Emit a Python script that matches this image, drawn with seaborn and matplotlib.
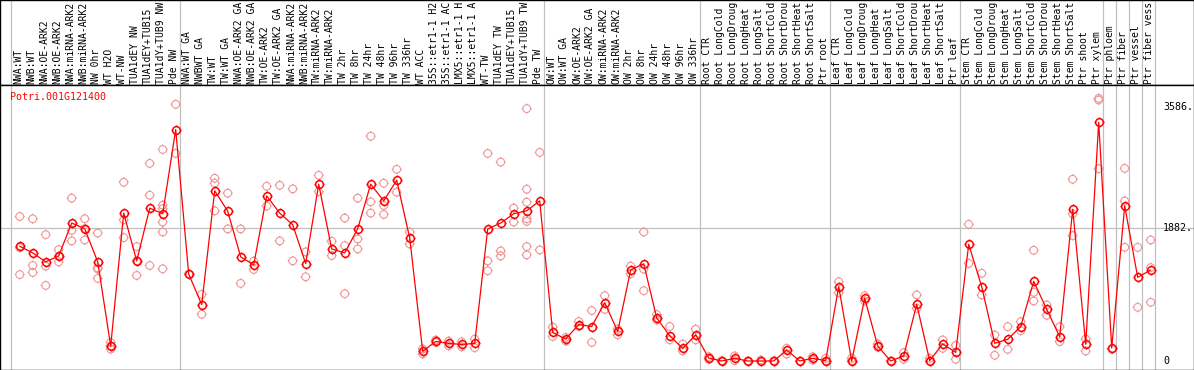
import matplotlib as mpl

mpl.use('Agg')
import numpy as np
import pandas as pd
import matplotlib.pyplot as plt
import seaborn as sns
from matplotlib.path import Path

sns.set_style('white')
plt.rcParams['font.family'] = ['DejaVu Sans Mono', 'DejaVu Sans']

#### Data ####
gene_id = 'Potri.001G121400'

# header labels as they show in the header (long ones are cut there)
sample_labels = [
    'NWA:WT', 'NWB:WT', 'NWA:OE-ARK2', 'NWB:OE-ARK2', 'NWA:miRNA-ARK2',
    'NWB:miRNA-ARK2', 'NW 0hr', 'WT H2O', 'WT-NW', 'TUA1dEY NW',
    'TUA1dEY+TUB15', 'TUA1dY+TUB9 NW', 'Pde NW',
    'NWA:WT GA', 'NWBWT GA', 'TW:WT', 'TW:WT GA', 'NWA:OE-ARK2 GA',
    'NWB:OE-ARK2 GA', 'TW:OE-ARK2', 'TW:OE-ARK2 GA', 'NWA:miRNA-ARK2',
    'NWB:miRNA-ARK2', 'TW:miRNA-ARK2', 'TW:miRNA-ARK2', 'TW 2hr', 'TW 8hr',
    'TW 24hr', 'TW 48hr', 'TW 96hr', 'TW 336hr', 'WT ACC',
    '35S::etr1-1 H2', '35S::etr1-1 AC', 'LMX5::etr1-1 H',
    'LMX5::etr1-1 A', 'WT-TW', 'TUA1dEY TW', 'TUA1dEY+TUB15',
    'TUA1dY+TUB9 TW', 'Pde TW',
    'OW:WT', 'OW:WT GA', 'OW:OE-ARK2', 'OW:OE-ARK2 GA', 'OW:miRNA-ARK2',
    'OW:miRNA-ARK2', 'OW 2hr', 'OW 8hr', 'OW 24hr', 'OW 48hr', 'OW 96hr',
    'OW 336hr',
    'Root CTR', 'Root LongCold', 'Root LongDroug', 'Root LongHeat',
    'Root LongSalt', 'Root ShortCold', 'Root ShortDrou', 'Root ShortHeat',
    'Root ShortSalt', 'Ptr root',
    'Leaf CTR', 'Leaf LongCold', 'Leaf LongDroug', 'Leaf LongHeat',
    'Leaf LongSalt', 'Leaf ShortCold', 'Leaf ShortDrou', 'Leaf ShortHeat',
    'Leaf ShortSalt', 'Ptr leaf',
    'Stem CTR', 'Stem LongCold', 'Stem LongDroug', 'Stem LongHeat',
    'Stem LongSalt', 'Stem ShortCold', 'Stem ShortDrou', 'Stem ShortHeat',
    'Stem ShortSalt', 'Ptr shoot', 'Ptr xylem', 'Ptr phloem', 'Ptr fiber',
    'Ptr vessel', 'Ptr fiber vess',
]

mean_expr = [
    1620, 1526, 1400, 1484, 1948, 1868, 1400, 211, 2088, 1414, 2158, 2079, 3268,
    1228, 796, 2402, 2116, 1470, 1358, 2331, 2088, 1924, 1376, 2496, 1582, 1526,
    1868, 2496, 2261, 2552, 1737, 136, 276, 248, 234, 248, 1864, 1948, 2079,
    2121, 2261,
    403, 309, 515, 487, 824, 417, 1287, 1372, 609, 356, 178, 370,
    42, 0, 38, 0, 0, 0, 155, 0, 38, 5,
    1050, 0, 885, 212, 0, 71, 800, 5, 240, 122,
    1647, 1050, 250, 306, 485, 1125, 730, 343, 2142, 236,
    3370, 184, 2189, 1181, 1285,
]

replicate_expr = [
    [2040, 1220, 1600], [2008, 1348, 1250], [1784, 1339, 1067],
    [1573, 1400, 1480], [2299, 1844, 1695], [2008, 1709, 1870],
    [1807, 1316, 1166, 1300], [262, 169, 211], [2524, 1994, 1742],
    [1615, 1208, 1414], [2790, 2341, 1348],
    [2987, 2200, 2150, 1962, 1821, 1302], [3624, 2931],
    [1228], [941, 660], [2580, 2510, 2121], [2369, 1864], [1864, 1096],
    [1409, 1292], [2467, 2187], [2481, 1695], [2430, 1414], [1540, 1189],
    [2622, 2392], [1690, 1489], [2018, 1629, 950], [2299, 1723, 1582],
    [3174, 2247, 2088], [2510, 2196, 2069], [2706, 2383], [1821, 1653],
    [170, 100], [295, 262], [281, 215], [271, 201], [309, 187],
    [2931, 1414, 1274], [2809, 1554, 1484], [2158, 1962],
    [3563, 2425, 2243, 2008, 1971, 1615, 1498], [2945, 1568],
    [478, 346], [333, 281], [557, 487], [712, 262], [922, 730], [449, 370],
    [1339, 1231], [1821, 1297, 993], [656, 580], [487, 300], [239, 145],
    [449, 300],
    [61, 24], [5, 0], [71, 5], [0, 0], [14, 0], [5, 0], [179, 99], [0],
    [61, 14], [38, 0],
    [1120, 965], [38, 0], [922, 847], [240, 193], [0], [118, 24], [932, 744],
    [38, 0], [297, 179], [221, 24],
    [1930, 1379], [1238, 932], [367, 80], [485, 165], [555, 428],
    [1563, 970, 847], [791, 645], [485, 273], [2566, 2076, 1770], [311, 141],
    [3709, 3685, 2715], [165], [2720, 2259, 1605], [1605, 758],
    [1709, 1318, 829],
]

# last column index of each block (-1 = line before the first column)
group_ends = [-1, 12, 40, 52, 62, 72, 83, 84, 85, 86, 87]
y_marks = [3586, 1882, 0]

########################

W, H = 1194, 370          # output size, px
HEAD = 85                 # header height, px
X0, DX = 19.7, 13.0       # px of first column, px per column
Y0, DY = 361.0, 133.3 / 1882   # px of zero, px per unit
FS = 7.2
GRID = '#c0c0c0'

# open circle with four small ticks
ring = Path.make_compound_path(
    Path.unit_circle(),
    Path([(0, 1), (0, 1.3)]), Path([(0, -1), (0, -1.3)]),
    Path([(1, 0), (1.3, 0)]), Path([(-1, 0), (-1.3, 0)]))

pos = np.arange(len(mean_expr))
rep_df = pd.DataFrame(
    [(i, v) for i, vals in enumerate(replicate_expr) for v in vals],
    columns=['pos', 'value'])

fig = plt.figure(figsize=(W / 100, H / 100), dpi=100)
ax_h = fig.add_axes([0, 1 - HEAD / H, 1, HEAD / H])
ax = fig.add_axes([0, 0, 1, 1 - HEAD / H])

xlim = (-X0 / DX, (W - X0) / DX)
for a in (ax, ax_h):
    a.set_xlim(xlim)
    a.set_xticks([])
    a.set_yticks([])
    for s in a.spines.values():
        s.set_color('black')
        s.set_linewidth(1.0)
ax.set_ylim((Y0 - H) / DY, (Y0 - HEAD) / DY)
ax_h.set_ylim(0, HEAD)

# grid lines
for g in group_ends:
    ax.axvline(g + 0.35, color=GRID, lw=0.9, zorder=1)
    ax_h.axvline(g + 0.35, color=GRID, lw=0.9, zorder=1)
ax.axhline(y_marks[1], color=GRID, lw=0.9, zorder=1)

# replicates
sns.scatterplot(data=rep_df, x='pos', y='value', marker=ring, s=52,
                facecolor='none', edgecolor='#f09696', linewidth=0.8,
                legend=False, ax=ax, zorder=3)
for c in ax.collections:
    c.set_facecolor('none')
    c.set_edgecolor('#f09696')

# means
sns.lineplot(x=pos, y=mean_expr, color='red', lw=0.9, marker=ring,
             markersize=7.2, markerfacecolor='none', markeredgecolor='red',
             markeredgewidth=1.1, ax=ax, zorder=4)
for ln in ax.lines[-1:]:
    ln.set_markerfacecolor('none')

ax.set_xlabel('')
ax.set_ylabel('')

# header labels
for i, lab in enumerate(sample_labels):
    ax_h.text(i - 0.12, 1, lab, rotation=90, ha='center', va='bottom',
              fontsize=7.0, color='black')

# value marks on the right
for v in y_marks:
    ax.text((1163 - X0) / DX, v, f'{v}.' if v else '0', ha='left',
            va='center', fontsize=FS, color='black')

ax.text((10 - X0) / DX, (Y0 - 97) / DY, gene_id, ha='left', va='center',
        fontsize=FS, color='red')

fig.savefig('out.png', dpi=100)
